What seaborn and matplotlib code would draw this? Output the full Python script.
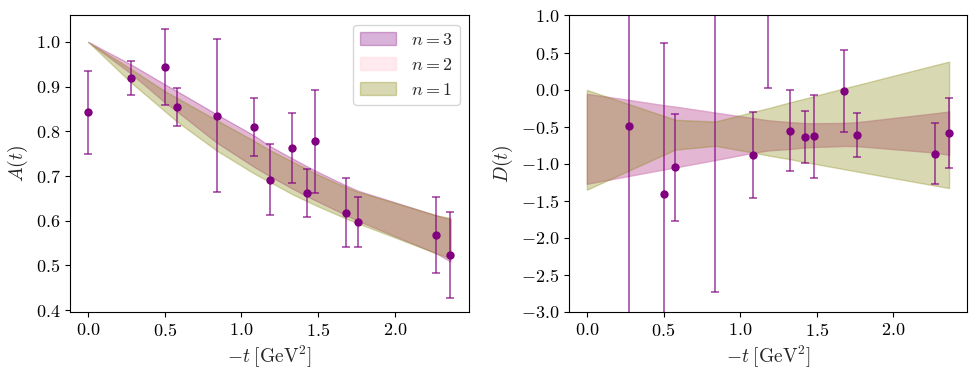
import matplotlib
matplotlib.use("Agg")
import matplotlib.pyplot as plt
import seaborn as sns
import numpy as np

# momentum transfer grid (-t in GeV^2)
t_grid = [0.0, 0.277, 0.5, 0.578, 0.838, 1.085, 1.184, 1.327, 1.425, 1.48, 1.68, 1.76, 2.27, 2.363]

# A(t) data
A_t = [0.0, 0.277, 0.5, 0.578, 0.838, 1.085, 1.184, 1.327, 1.425, 1.48, 1.68, 1.76, 2.27, 2.363]
A_val = [0.843, 0.919, 0.944, 0.854, 0.835, 0.810, 0.692, 0.763, 0.662, 0.778, 0.618, 0.598, 0.568, 0.523]
A_err = [0.093, 0.038, 0.085, 0.042, 0.171, 0.065, 0.080, 0.078, 0.053, 0.115, 0.077, 0.056, 0.084, 0.097]

# A(t) bands
A3_hi = [1.0, 0.95, 0.905, 0.89, 0.838, 0.79, 0.767, 0.74, 0.722, 0.712, 0.679, 0.667, 0.612, 0.603]
A3_lo = [1.0, 0.93, 0.865, 0.845, 0.775, 0.72, 0.70, 0.673, 0.655, 0.646, 0.613, 0.60, 0.527, 0.509]
A2_hi = [1.0, 0.948, 0.902, 0.887, 0.835, 0.787, 0.765, 0.738, 0.72, 0.71, 0.677, 0.666, 0.611, 0.603]
A2_lo = [1.0, 0.93, 0.866, 0.846, 0.777, 0.722, 0.702, 0.675, 0.657, 0.648, 0.614, 0.601, 0.528, 0.51]
A1_hi = [1.0, 0.94, 0.89, 0.875, 0.825, 0.778, 0.758, 0.733, 0.716, 0.706, 0.675, 0.665, 0.612, 0.606]
A1_lo = [1.0, 0.91, 0.845, 0.822, 0.757, 0.705, 0.687, 0.66, 0.644, 0.635, 0.605, 0.594, 0.527, 0.516]

# D(t) data
D_t = [0.277, 0.5, 0.578, 0.838, 1.085, 1.184, 1.327, 1.425, 1.48, 1.68, 1.76, 2.27, 2.363]
D_val = [-0.49, -1.415, -1.051, 1.40, -0.884, 1.90, -0.557, -0.637, -0.628, -0.017, -0.615, -0.866, -0.584]
D_err = [3.60, 2.04, 0.72, 4.135, 0.583, 1.877, 0.545, 0.35, 0.56, 0.555, 0.30, 0.41, 0.47]

# D(t) bands
D3_hi = [-0.058, -0.14, -0.21, -0.23, -0.31, -0.385, -0.415, -0.44, -0.453, -0.455, -0.45, -0.44, -0.32, -0.296]
D3_lo = [-1.271, -1.164, -1.078, -1.05, -0.95, -0.852, -0.82, -0.80, -0.78, -0.775, -0.76, -0.762, -0.85, -0.88]
D2_hi = [-0.06, -0.142, -0.212, -0.232, -0.312, -0.387, -0.417, -0.442, -0.455, -0.457, -0.452, -0.442, -0.322, -0.298]
D2_lo = [-1.269, -1.162, -1.076, -1.048, -0.948, -0.85, -0.818, -0.798, -0.778, -0.773, -0.758, -0.76, -0.848, -0.878]
D1_hi = [-0.004, -0.198, -0.353, -0.408, -0.431, -0.30, -0.25, -0.17, -0.12, -0.09, 0.02, 0.06, 0.33, 0.377]
D1_lo = [-1.352, -1.09, -0.88, -0.81, -0.759, -0.85, -0.89, -0.94, -0.98, -1.0, -1.075, -1.105, -1.295, -1.329]

sns.set_style("ticks")
plt.rcParams["font.family"] = "serif"
plt.rcParams["font.serif"] = ["cmr10", "DejaVu Serif"]
plt.rcParams["mathtext.fontset"] = "cm"
plt.rcParams["axes.formatter.use_mathtext"] = True
plt.rcParams["font.size"] = 14
plt.rcParams["axes.edgecolor"] = "black"
plt.rcParams["xtick.color"] = "black"
plt.rcParams["ytick.color"] = "black"

fig, axes = plt.subplots(1, 2, figsize=(9.77, 3.74), dpi=100)
fig.subplots_adjust(left=0.0717, right=0.990, bottom=0.166, top=0.9586, wspace=0.2515)


def draw_panel(ax, bands, t, val, err, ylabel):
    for (lo, hi, col, lab) in bands:
        ax.fill_between(t_grid, lo, hi, color=col, alpha=0.3, label=lab)
    ax.errorbar(t, val, yerr=err, fmt="none", ecolor=(0.5, 0, 0.5, 0.7),
                elinewidth=1.2, capsize=3, capthick=1.2)
    sns.scatterplot(x=t, y=val, ax=ax, color="purple", s=36, edgecolor="purple",
                    linewidth=0, zorder=5, legend=False)
    ax.set_xlabel(r"$-t\;[\mathrm{GeV}^2]$", fontsize=14)
    ax.set_ylabel(ylabel, fontsize=14)
    ax.set_xticks([0.0, 0.5, 1.0, 1.5, 2.0])
    ax.tick_params(labelsize=13)


draw_panel(axes[0],
           [(A3_lo, A3_hi, "purple", r"$n=3$"),
            (A2_lo, A2_hi, "pink", r"$n=2$"),
            (A1_lo, A1_hi, "olive", r"$n=1$")],
           A_t, A_val, A_err, r"$A(t)$")
axes[0].legend(loc="upper right", fontsize=13)

draw_panel(axes[1],
           [(D3_lo, D3_hi, "purple", r"$n=3$"),
            (D2_lo, D2_hi, "pink", r"$n=2$"),
            (D1_lo, D1_hi, "olive", r"$n=1$")],
           D_t, D_val, D_err, r"$D(t)$")
axes[1].set_ylim(-3, 1)
axes[1].set_yticks(np.arange(-3.0, 1.01, 0.5))
if axes[1].get_legend() is not None:
    axes[1].get_legend().remove()

fig.savefig("out.png", dpi=100)
